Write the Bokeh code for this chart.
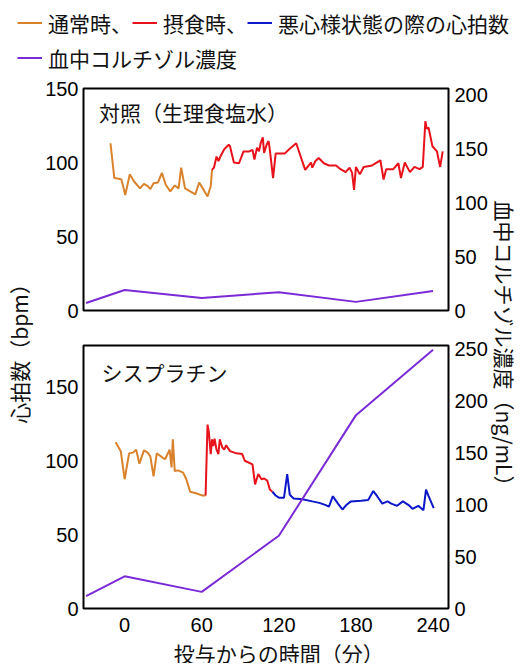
import math
from bokeh.plotting import figure
from bokeh.models import Range1d, LinearAxis, Legend, LegendItem, Label, FixedTicker
from bokeh.layouts import column, row
from bokeh.embed import file_html
from bokeh.resources import INLINE

# ---------------- data ----------------
x_ticks = [0, 60, 120, 180, 240]
hr_ticks = [0, 50, 100, 150]
top_cort_ticks = [0, 50, 100, 150, 200]
bot_cort_ticks = [0, 50, 100, 150, 200, 250]

cort_t = [-30, 0, 60, 120, 180, 240]
ctrl_cort = [7, 19, 11.5, 17, 8, 18]
cis_cort = [12, 31, 16, 70, 186, 249]

ctrl_normal_t = [-11, -8, -4.5, -2.5, 0.5, 4, 7.5, 12, 15, 18, 20, 22.5, 26, 29, 32, 35.5,
                 39, 42, 44, 47, 51, 55, 58, 61.5, 64.5, 67, 68]
ctrl_normal_hr = [113, 89.5, 89, 88.5, 78, 92, 87, 82.5, 85.5, 84, 82, 86, 86.5, 93, 85, 80.5,
                  84.5, 82.5, 96.5, 82.5, 80.5, 78.5, 86.5, 81.5, 77, 84, 95]

ctrl_feed_t = [68, 69.5, 71.5, 73, 74.5, 77.5, 81, 82, 85, 89, 92.5, 97, 99.5, 101, 103,
               104.5, 106, 107.5, 108.5, 110.5, 112, 113, 115.5, 117.5, 120.5, 124.5, 128,
               133.5, 140.5, 145, 146, 148.5, 151, 155, 159, 164.5, 168, 172, 175, 177,
               178.5, 180, 183, 186, 192.5, 199, 201.5, 203.5, 209, 213, 215, 218, 222,
               225.5, 229.5, 232, 234, 235, 236.5, 239.5, 243, 245.5, 247.5]
ctrl_feed_hr = [95, 96.5, 104, 101, 104, 109, 112, 111, 100, 99.5, 107.5, 107.5, 108.5, 102, 110,
                107.5, 113.5, 117, 106.5, 112, 114.5, 108.5, 89.5, 106, 106, 106, 109,
                113, 95, 100, 96.5, 101, 103, 99.5, 98, 98, 95.5, 93.5, 96.5, 93,
                81.5, 97, 92, 97, 98, 101.5, 88.5, 95.5, 95.5, 99.5, 89.5, 100, 93.5,
                97, 95.5, 97, 128, 123, 123.5, 111, 107.5, 97, 107.5]

cis_normal_t = [-7, -3, 0, 3.5, 6.5, 9, 11.5, 15, 18, 20, 22.5, 25, 29, 31.5, 35, 36.5, 37.5,
                39, 41.5, 45.5, 48, 51, 55.5, 60.5, 63]
cis_normal_hr = [112.5, 106.5, 87.5, 105, 105.5, 107.5, 98, 107, 105.5, 103, 89.5, 105, 102.5,
                 101, 107.5, 95.5, 114.5, 93, 93.5, 92, 87.5, 79, 78, 76.5, 76.5]

cis_feed_t = [63, 64.5, 65.5, 67, 68, 69, 70, 71.5, 73, 74, 76, 77.5, 79, 82, 87, 91.5, 93.5,
              99.5, 101.5, 104, 106.5, 108.5, 111, 113, 115]
cis_feed_hr = [76.5, 124.5, 119.5, 104.5, 114.5, 110, 115, 107.5, 104.5, 114.5, 109, 107.5,
               110.5, 106.5, 105, 104.5, 100, 97.5, 84, 91, 87.5, 88, 86.5, 80.5, 79]

cis_nausea_t = [115, 117.5, 120, 124, 126.5, 128.5, 131.5, 138.5, 146, 151.5, 156.5, 159, 162,
                166, 169.5, 172.5, 176, 184, 189.5, 193.5, 196.5, 200.5, 204.5, 207.5, 212,
                216.5, 221, 224, 228.5, 232.5, 234.5, 236.5, 240.5]
cis_nausea_hr = [79, 76.5, 75, 75, 91, 77, 74.5, 74, 72.5, 71.5, 70, 69, 76, 71, 67, 70, 72.5,
                 73, 73.5, 79.5, 76, 71, 72.5, 71, 69.5, 72.5, 70, 67.5, 69.5, 66.5, 80.5,
                 76, 68]

legend_row1 = ["通常時、", "摂食時、", "悪心様状態の際の心拍数"]
legend_row2 = ["血中コルチゾル濃度"]
panel_titles = ["対照（生理食塩水）", "シスプラチン"]
y_title = "心拍数（bpm）"
y2_title = "血中コルチゾル濃度（ng/mL）"
x_title = "投与からの時間（分）"

# ---------------- style ----------------
ORANGE = "#D9822B"
RED = "#E8121B"
BLUE = "#0C17C9"
PURPLE = "#7A2AD6"
JP = "Noto Sans CJK JP"
NUM = "Liberation Sans"
TXT = "#111111"
X_RANGE = Range1d(-32, 252)
BL, BR = 45, 39          # left / right borders of the panel figures
PW = BL + 368 + BR       # panel figure width


def style_axis(ax, ticks, standoff):
    ax.ticker = FixedTicker(ticks=ticks)
    ax.axis_line_color = None
    ax.major_tick_line_color = None
    ax.minor_tick_line_color = None
    ax.major_tick_in = 0
    ax.major_tick_out = 0
    ax.minor_tick_in = 0
    ax.minor_tick_out = 0
    ax.major_label_text_font = NUM
    ax.major_label_text_font_size = "20px"
    ax.major_label_text_color = "black"
    ax.major_label_standoff = standoff


def panel(height, b_top, b_bottom, ymax, cmax, cticks, show_x):
    p = figure(width=PW, height=height, x_range=X_RANGE,
               y_range=Range1d(0, ymax), output_backend="svg", toolbar_location=None,
               min_border_left=BL, min_border_right=BR, min_border_top=b_top,
               min_border_bottom=b_bottom,
               x_axis_location="below" if show_x else None)
    p.extra_y_ranges = {"cort": Range1d(0, cmax)}
    p.add_layout(LinearAxis(y_range_name="cort"), "right")
    p.grid.visible = False
    p.outline_line_color = "black"
    p.outline_line_width = 2
    style_axis(p.yaxis[0], hr_ticks, 5)
    style_axis(p.yaxis[1], cticks, 6)
    if show_x:
        style_axis(p.xaxis[0], x_ticks, 9)
    return p


TOP_H, BOT_H, STRIP_H = 249, 313, 23

top = panel(TOP_H, 10, 17, 150, 206, top_cort_ticks, False)
top.line(ctrl_normal_t, ctrl_normal_hr, color=ORANGE, line_width=2)
top.line(ctrl_feed_t, ctrl_feed_hr, color=RED, line_width=2)
top.line(cort_t, ctrl_cort, color=PURPLE, line_width=2, y_range_name="cort")
top.add_layout(Label(x=-20, y=134, text=panel_titles[0], text_font=JP,
                     text_font_size="21px", text_baseline="middle", text_color=TXT))

bot = panel(BOT_H, 18, 32, 178, 253, bot_cort_ticks, True)
bot.line(cis_normal_t, cis_normal_hr, color=ORANGE, line_width=2)
bot.line(cis_feed_t, cis_feed_hr, color=RED, line_width=2)
bot.line(cis_nausea_t, cis_nausea_hr, color=BLUE, line_width=2)
bot.line(cort_t, cis_cort, color=PURPLE, line_width=2, y_range_name="cort")
bot.add_layout(Label(x=-18, y=160, text=panel_titles[1], text_font=JP,
                     text_font_size="21px", text_baseline="middle", text_color=TXT))

# x-axis title strip (shares the x range, so the title centres on the tick span)
xs = figure(width=PW, height=STRIP_H, x_range=X_RANGE, y_range=Range1d(0, 1),
            output_backend="svg", toolbar_location=None, x_axis_type=None,
            y_axis_type=None, min_border_left=BL, min_border_right=BR,
            min_border_top=0, min_border_bottom=0, outline_line_color=None)
xs.add_layout(Label(x=120, y=0.45, text=x_title, text_font=JP, text_font_size="21px",
                    text_align="center", text_baseline="middle", text_color=TXT))

# legend strip
lf = figure(width=515, height=78, output_backend="svg", toolbar_location=None,
            x_axis_type=None, y_axis_type=None, min_border=0, outline_line_color=None,
            x_range=Range1d(0, 1), y_range=Range1d(0, 1))
nan = float("nan")
r_o = lf.line(x=[nan], y=[nan], color=ORANGE, line_width=2)
r_r = lf.line(x=[nan], y=[nan], color=RED, line_width=2)
r_b = lf.line(x=[nan], y=[nan], color=BLUE, line_width=2)
r_p = lf.line(x=[nan], y=[nan], color=PURPLE, line_width=2)


def make_legend(items, loc):
    return Legend(items=items, location=loc, orientation="horizontal",
                  label_text_font=JP, label_text_font_size="21px",
                  label_text_color=TXT,
                  glyph_width=25, glyph_height=31, label_height=31, label_standoff=6,
                  spacing=0, padding=0, margin=0, border_line_color=None,
                  background_fill_alpha=0)


lf.add_layout(make_legend([LegendItem(label=legend_row1[0], renderers=[r_o]),
                           LegendItem(label=legend_row1[1], renderers=[r_r]),
                           LegendItem(label=legend_row1[2], renderers=[r_b])], (17, 40)))
lf.add_layout(make_legend([LegendItem(label=legend_row2[0], renderers=[r_p])], (17, 5)))

# side titles
H = TOP_H + BOT_H + STRIP_H
LTW, RTW = 38, 515 - 38 - PW
lt = figure(width=LTW, height=H, output_backend="svg", toolbar_location=None,
            x_axis_type=None, y_axis_type=None, min_border=0, outline_line_color=None,
            x_range=Range1d(0, LTW), y_range=Range1d(0, H))
lt.add_layout(Label(x=18, y=H - 270, text=y_title, angle=math.pi / 2, text_font=JP,
                    text_font_size="21px", text_align="center", text_baseline="middle",
                    text_color=TXT))
rt = figure(width=RTW, height=H, output_backend="svg", toolbar_location=None,
            x_axis_type=None, y_axis_type=None, min_border=0, outline_line_color=None,
            x_range=Range1d(0, RTW), y_range=Range1d(0, H))
rt.add_layout(Label(x=14, y=H - 270, text=y2_title, angle=-math.pi / 2, text_font=JP,
                    text_font_size="21px", text_align="center", text_baseline="middle",
                    text_color=TXT))

layout = column(lf, row(lt, column(top, bot, xs, spacing=0), rt, spacing=0), spacing=0)

with open("out.html", "w") as f:
    f.write(file_html(layout, INLINE))
